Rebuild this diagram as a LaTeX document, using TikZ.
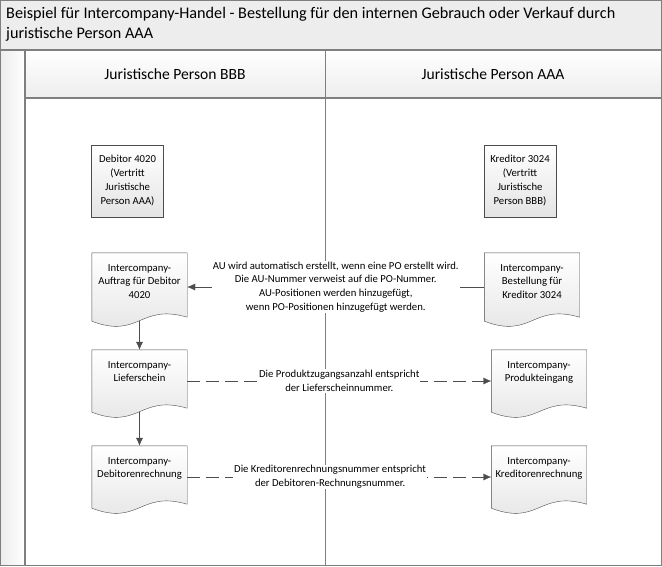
\documentclass[tikz,border=0pt]{standalone}
\usepackage{fontspec}
\setmainfont{Carlito}
\usetikzlibrary{calc,arrows.meta,backgrounds}

\definecolor{linegray}{HTML}{4D4D4D}
\definecolor{framegray}{HTML}{7F7F7F}
\definecolor{headgray}{HTML}{EDEDED}
\definecolor{boxgray}{HTML}{E4E4E4}

% text of a document shape, set from the top
\newcommand{\docbody}[2]{\parbox[c][#1pt][t]{95pt}{\centering\rule{0pt}{18pt}#2}}

\tikzset{
  procbox/.style={draw=linegray, top color=white, bottom color=boxgray,
    minimum width=72pt, minimum height=72pt, align=center, inner sep=2pt,
    font=\fontsize{10.7}{14}\selectfont},
  docnode/.style={inner sep=0pt, font=\fontsize{10.7}{13.7}\selectfont},
  docline/.style={draw=linegray, top color=white, bottom color=boxgray},
  flow/.style={draw=linegray, -{Latex[length=8pt,width=7pt]}},
  infoflow/.style={flow, dash pattern=on 13pt off 6pt},
  flowlabel/.style={fill=white, align=center, inner sep=1pt,
    font=\fontsize{10.7}{13.7}\selectfont},
  lanehead/.style={font=\fontsize{15.6}{18}\selectfont},
}

\begin{document}
\begin{tikzpicture}[x=1pt,y=-1pt]
    \useasboundingbox (0,0) rectangle (662,566);
    % title bar
    \draw[framegray, fill=headgray] (0.5,0.5) rectangle (661.5,50);
    \node[anchor=north west, align=left, inner sep=0pt,
        font=\fontsize{16.2}{20}\selectfont] (title) at (6,7)
        {Beispiel für Intercompany-Handel - Bestellung für den internen Gebrauch oder Verkauf durch\\juristische Person AAA};

    % pool and lanes
    \shade[left color=headgray, right color=white] (0.5,50) rectangle (25,565.5);
    \shade[top color=white, bottom color=headgray] (25,50) rectangle (661.5,98);
    \draw[framegray, line width=1.2pt] (0.6,50) rectangle (661.4,565.4);
    \draw[framegray, line width=1.2pt] (25,50) -- (25,565.4);
    \draw[framegray, line width=1.2pt] (25,98) -- (661.4,98);
    \draw[framegray] (325,50) -- (325,565.4);
    \node[lanehead] (laneB) at (175,74) {Juristische Person BBB};
    \node[lanehead] (laneA) at (493,74) {Juristische Person AAA};

    % accounts
    \node[procbox] (debitor) at (127.5,181) {Debitor 4020\\(Vertritt\\Juristische\\Person AAA)};
    \node[procbox] (kreditor) at (520,181) {Kreditor 3024\\(Vertritt\\Juristische\\Person BBB)};

    % documents
    \node[docnode] (auftrag) at (139.5,287) {\docbody{68}{Intercompany-\\Auftrag für Debitor\\4020}};
    \node[docnode] (liefer) at (139.5,381) {\docbody{62}{Intercompany-\\Lieferschein}};
    \node[docnode] (debre) at (139.5,477) {\docbody{62}{Intercompany-\\Debitorenrechnung}};
    \node[docnode] (bestell) at (532,287) {\docbody{68}{Intercompany-\\Bestellung für\\Kreditor 3024}};
    \node[docnode] (produkt) at (539,381) {\docbody{62}{Intercompany-\\Produkteingang}};
    \node[docnode] (kredre) at (539,477) {\docbody{62}{Intercompany-\\Kreditorenrechnung}};

    \begin{scope}[on background layer]
        \foreach \d in {auftrag,liefer,debre,bestell,produkt,kredre}
        \draw[docline] (\d.south west) -- (\d.north west) -- (\d.north east)
            -- ($(\d.south east)+(0,-4)$)
            .. controls ($(\d.south)+(0,-18)$) and ($(\d.south)+(0,18)$) .. (\d.south west);
    \end{scope}

    % connectors
    \draw[flow] (bestell.west) -- node[flowlabel] {AU wird automatisch erstellt, wenn eine PO erstellt wird.\\Die AU-Nummer verweist auf die PO-Nummer.\\AU-Positionen werden hinzugefügt,\\wenn PO-Positionen hinzugefügt werden.} (auftrag.east);
    \draw[flow] (auftrag.south) -- (liefer.north);
    \draw[flow] (liefer.south) -- (debre.north);
    \draw[infoflow] (liefer.east) -- node[flowlabel] {Die Produktzugangsanzahl entspricht\\der Lieferscheinnummer.} (produkt.west);
    \draw[infoflow] (debre.east) -- node[flowlabel, pos=0.47] {Die Kreditorenrechnungsnummer entspricht\\der Debitoren-Rechnungsnummer.} (kredre.west);
\end{tikzpicture}
\end{document}
